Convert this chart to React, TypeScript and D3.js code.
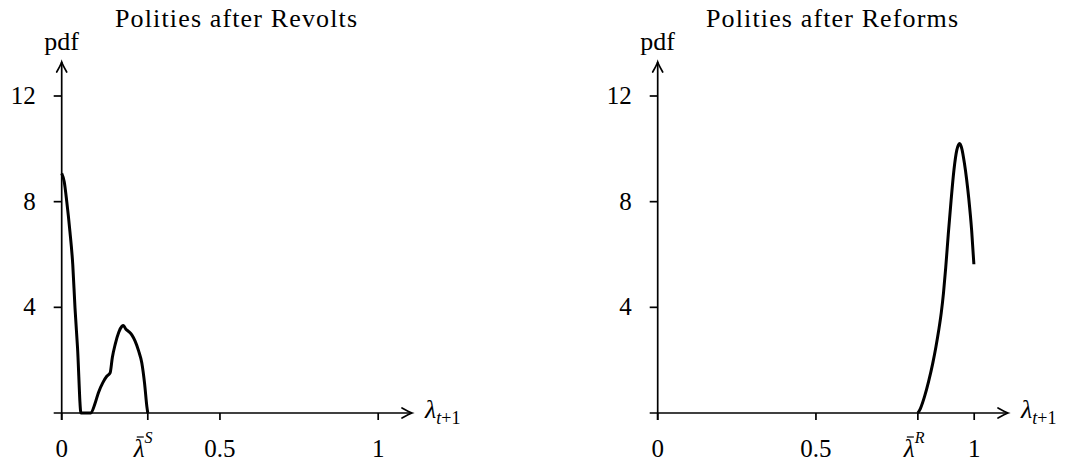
import React from "react";
import * as d3 from "d3";

// ---- Data ----
const revoltX = [0, 0.008, 0.016, 0.026, 0.035, 0.042, 0.05, 0.061, 0.092, 0.105, 0.116, 0.13, 0.143, 0.153, 0.16, 0.169, 0.18, 0.19, 0.195, 0.203, 0.211, 0.222, 0.232, 0.243, 0.253, 0.262, 0.269, 0.272];
const revoltY = [9.07, 8.75, 8.0, 6.87, 5.61, 3.98, 2.47, 0, 0, 0.35, 0.77, 1.15, 1.4, 1.52, 2.1, 2.6, 3.05, 3.28, 3.31, 3.17, 3.09, 2.95, 2.72, 2.35, 1.9, 1.1, 0.25, 0];

const reformX = [0.822, 0.83, 0.843, 0.856, 0.869, 0.879, 0.888, 0.896, 0.903, 0.91, 0.918, 0.927, 0.936, 0.945, 0.954, 0.961, 0.969, 0.976, 0.983, 0.992, 0.999];
const reformY = [0, 0.17, 0.62, 1.2, 1.88, 2.5, 3.14, 3.8, 4.55, 5.5, 6.75, 8.05, 9.2, 9.95, 10.2, 10.0, 9.46, 8.85, 8.1, 6.9, 5.63];

const yTicks = [4, 8, 12];
const xTicks = [0, 0.5, 1];
const xTickLabels = ["0", "0.5", "1"];
const titles = ["Polities after Revolts", "Polities after Reforms"];
const thresholds = [0.272, 0.822];
const thresholdSup = ["S", "R"];

const FONT = "Liberation Serif, DejaVu Serif, Times New Roman, serif";

interface PanelProps {
  x0: number;
  arrowX: number;
  title: string;
  titleX: number;
  titleLen: number;
  xs: number[];
  ys: number[];
  thr: number;
  sup: string;
}

function Panel({ x0, arrowX, title, titleX, titleLen, xs, ys, thr, sup }: PanelProps) {
  const x = d3.scaleLinear().domain([0, 1]).range([x0, x0 + 316.5]);
  const y = d3.scaleLinear().domain([0, 12]).range([413, 96]);
  const yTop = 62;
  const pts: [number, number][] = xs.map((v, i) => [v, ys[i]]);
  const line = d3
    .line<[number, number]>()
    .x((d) => x(d[0]))
    .y((d) => y(d[1]))
    .curve(d3.curveMonotoneX);
  const y0 = y(0);
  const tx = x(thr);
  return (
    <g>
      <text x={titleX} y={27} textAnchor="middle" fontSize={26} textLength={titleLen} lengthAdjust="spacing">
        {title}
      </text>
      <text x={x0} y={50} textAnchor="middle" fontSize={26}>
        pdf
      </text>
      {/* axes */}
      <line x1={x0} x2={x0} y1={y0 + 7} y2={yTop} stroke="#000" strokeWidth={1.7} />
      <line x1={x0 - 8} x2={arrowX} y1={y0} y2={y0} stroke="#000" strokeWidth={1.7} />
      <path
        d={`M${x0 - 5},${yTop + 10} Q${x0 - 1},${yTop + 3} ${x0},${yTop} Q${x0 + 1},${yTop + 3} ${x0 + 5},${yTop + 10}`}
        fill="none"
        stroke="#000"
        strokeWidth={1.7}
        strokeLinecap="round"
      />
      <path
        d={`M${arrowX - 10},${y0 - 5} Q${arrowX - 3},${y0 - 1} ${arrowX},${y0} Q${arrowX - 3},${y0 + 1} ${arrowX - 10},${y0 + 5}`}
        fill="none"
        stroke="#000"
        strokeWidth={1.7}
        strokeLinecap="round"
      />
      {/* y ticks */}
      {yTicks.map((t) => (
        <g key={t}>
          <line x1={x0 - 8} x2={x0} y1={y(t)} y2={y(t)} stroke="#000" strokeWidth={1.7} />
          <text x={x0 - 26} y={y(t) + 8} textAnchor="end" fontSize={25}>
            {t}
          </text>
        </g>
      ))}
      {/* x ticks */}
      {xTicks.map((t, i) => (
        <g key={t}>
          <line x1={x(t)} x2={x(t)} y1={y0} y2={y0 + 7} stroke="#000" strokeWidth={1.7} />
          <text x={x(t)} y={457} textAnchor="middle" fontSize={25}>
            {xTickLabels[i]}
          </text>
        </g>
      ))}
      <line x1={tx} x2={tx} y1={y0} y2={y0 + 7} stroke="#000" strokeWidth={1.7} />
      <text x={tx - 14} y={457} fontSize={25}>
        <tspan fontStyle="italic">λ</tspan>
        <tspan fontStyle="italic" fontSize={16} dy={-14}>{sup}</tspan>
      </text>
      <line x1={tx - 11} x2={tx - 4} y1={437} y2={437} stroke="#000" strokeWidth={1.2} />
      {/* x label */}
      <text x={arrowX + 13} y={418} fontSize={26}>
        <tspan fontStyle="italic">λ</tspan>
        <tspan fontSize={18} dy={6}>
          <tspan fontStyle="italic">t</tspan>+1
        </tspan>
      </text>
      {/* curve */}
      <path d={line(pts) || ""} fill="none" stroke="#000" strokeWidth={3} strokeLinejoin="round" />
    </g>
  );
}

export default function App() {
  return (
    <svg width={1070} height={460} style={{ position: "absolute", left: 0, top: 0, background: "#fff", fontFamily: FONT }}>
      <rect width={1070} height={460} fill="#fff" />
      <Panel x0={61.7} arrowX={412} title={titles[0]} titleX={236} titleLen={242} xs={revoltX} ys={revoltY} thr={thresholds[0]} sup={thresholdSup[0]} />
      <Panel x0={657.7} arrowX={1008} title={titles[1]} titleX={832} titleLen={252} xs={reformX} ys={reformY} thr={thresholds[1]} sup={thresholdSup[1]} />
    </svg>
  );
}
